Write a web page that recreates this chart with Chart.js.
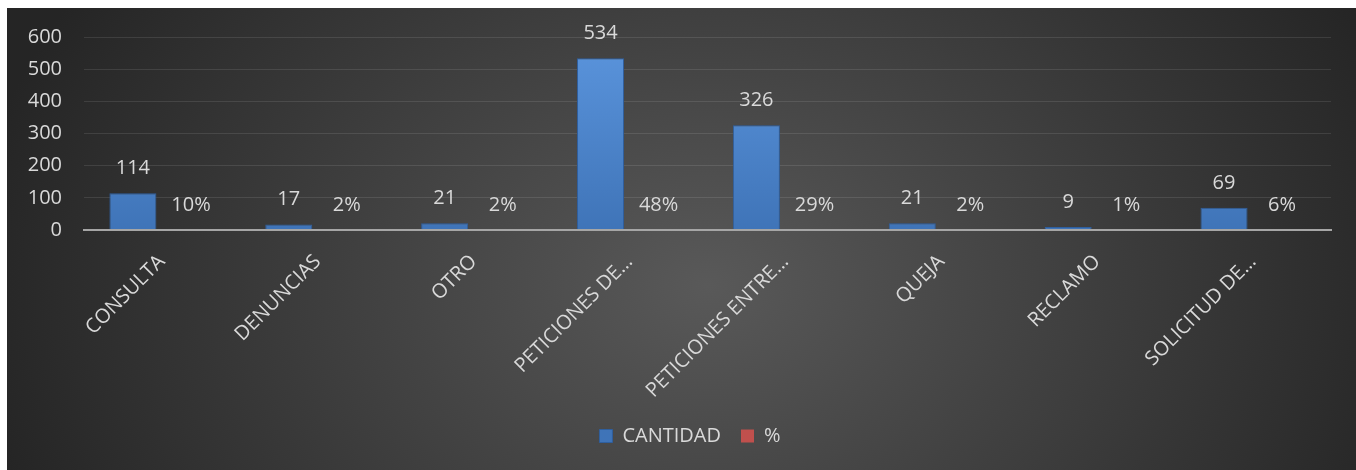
<!DOCTYPE html>
<html>
<head>
<meta charset="utf-8">
<script src="https://cdn.jsdelivr.net/npm/chart.js@4.4.0/dist/chart.umd.min.js"></script>
<style>
  html, body { margin: 0; padding: 0; background: #ffffff; }
  #wrap { position: absolute; left: 7px; top: 8px; width: 1349px; height: 462px; }
</style>
</head>
<body>
<div id="wrap"><canvas id="chart" width="1349" height="462"></canvas></div>
<script>
// categories (labels already cut as in the picture)
var categories = ['CONSULTA', 'DENUNCIAS', 'OTRO', 'PETICIONES DE…', 'PETICIONES ENTRE…', 'QUEJA', 'RECLAMO', 'SOLICITUD DE…'];
var cantidad = [114, 17, 21, 534, 326, 21, 9, 69];
var porcentaje = [0.10, 0.02, 0.02, 0.48, 0.29, 0.02, 0.01, 0.06];
var yTicks = [0, 100, 200, 300, 400, 500, 600];

var textColor = '#d9d9d9';
var fontFamily = '"Open Sans", "Noto Sans", sans-serif';

// dark radial background like the office theme
var bgPlugin = {
    id: 'bg',
    beforeDraw: function(chart) {
        var ctx = chart.ctx, w = chart.width, h = chart.height;
        ctx.save();
        ctx.translate(w * 0.52, h * 0.6);
        ctx.scale(1, 0.75);
        var g = ctx.createRadialGradient(0, 0, 0, 0, 0, w * 0.55);
        g.addColorStop(0, '#595959');
        g.addColorStop(1, '#252525');
        ctx.fillStyle = g;
        ctx.fillRect(-w, -h * 2, w * 2, h * 4);
        ctx.restore();
    },
    // nudge the legend a little to the right, like the original
    afterLayout: function(chart) {
        if (chart.legend) {
            chart.legend.left += 21;
            chart.legend.right += 21;
        }
    }
};

// value labels above each bar, axis line redrawn on top
var labelPlugin = {
    id: 'valueLabels',
    afterDatasetsDraw: function(chart) {
        var ctx = chart.ctx, area = chart.chartArea;
        ctx.save();
        ctx.strokeStyle = '#a6a6a6';
        ctx.lineWidth = 2;
        ctx.beginPath();
        ctx.moveTo(area.left, area.bottom);
        ctx.lineTo(area.right, area.bottom);
        ctx.stroke();

        ctx.fillStyle = textColor;
        ctx.font = '20px ' + fontFamily;
        ctx.textAlign = 'center';
        ctx.textBaseline = 'middle';
        chart.data.datasets.forEach(function(ds, i) {
            var meta = chart.getDatasetMeta(i);
            meta.data.forEach(function(bar, j) {
                var v = ds.data[j];
                var txt = i === 0 ? String(v) : Math.round(v * 100) + '%';
                ctx.fillText(txt, bar.x, bar.y - 25);
            });
        });
        ctx.restore();
    }
};

var ctx = document.getElementById('chart').getContext('2d');
var blueGrad = ctx.createLinearGradient(0, 30, 0, 222);
blueGrad.addColorStop(0, '#5b95dd');
blueGrad.addColorStop(1, '#3f74b8');

new Chart(ctx, {
    type: 'bar',
    data: {
        labels: categories,
        datasets: [{
            label: 'CANTIDAD',
            data: cantidad,
            backgroundColor: blueGrad,
            borderColor: '#2f5f9e',
            borderWidth: 1,
            categoryPercentage: 0.745,
            barPercentage: 0.81
        }, {
            label: '%',
            data: porcentaje,
            backgroundColor: '#c0504d',
            borderWidth: 0,
            categoryPercentage: 0.745,
            barPercentage: 0.81
        }]
    },
    options: {
        responsive: false,
        animation: false,
        layout: { padding: { top: 29, right: 25, left: 0, bottom: 14 } },
        plugins: {
            legend: {
                position: 'bottom',
                labels: {
                    color: textColor,
                    font: { size: 20, family: fontFamily },
                    boxWidth: 13,
                    boxHeight: 13,
                    padding: 20
                }
            },
            tooltip: { enabled: false }
        },
        scales: {
            x: {
                grid: { display: false, drawTicks: false },
                border: { color: '#a6a6a6', width: 2 },
                ticks: {
                    color: textColor,
                    font: { size: 20, family: fontFamily },
                    minRotation: 45,
                    maxRotation: 45,
                    autoSkip: false,
                    padding: 20
                },
                afterFit: function(scale) { scale.height = 176; }
            },
            y: {
                min: 0,
                max: 600,
                afterBuildTicks: function(scale) {
                    scale.ticks = yTicks.map(function(v) { return { value: v }; });
                },
                grid: {
                    color: 'rgba(255,255,255,0.1)',
                    lineWidth: 1,
                    drawTicks: true,
                    tickLength: 20,
                    tickColor: 'rgba(0,0,0,0)'
                },
                border: { display: false },
                ticks: {
                    color: textColor,
                    font: { size: 20, family: fontFamily },
                    padding: 2
                },
                afterFit: function(scale) { scale.width = 77; }
            }
        }
    },
    plugins: [bgPlugin, labelPlugin]
});
</script>
</body>
</html>
